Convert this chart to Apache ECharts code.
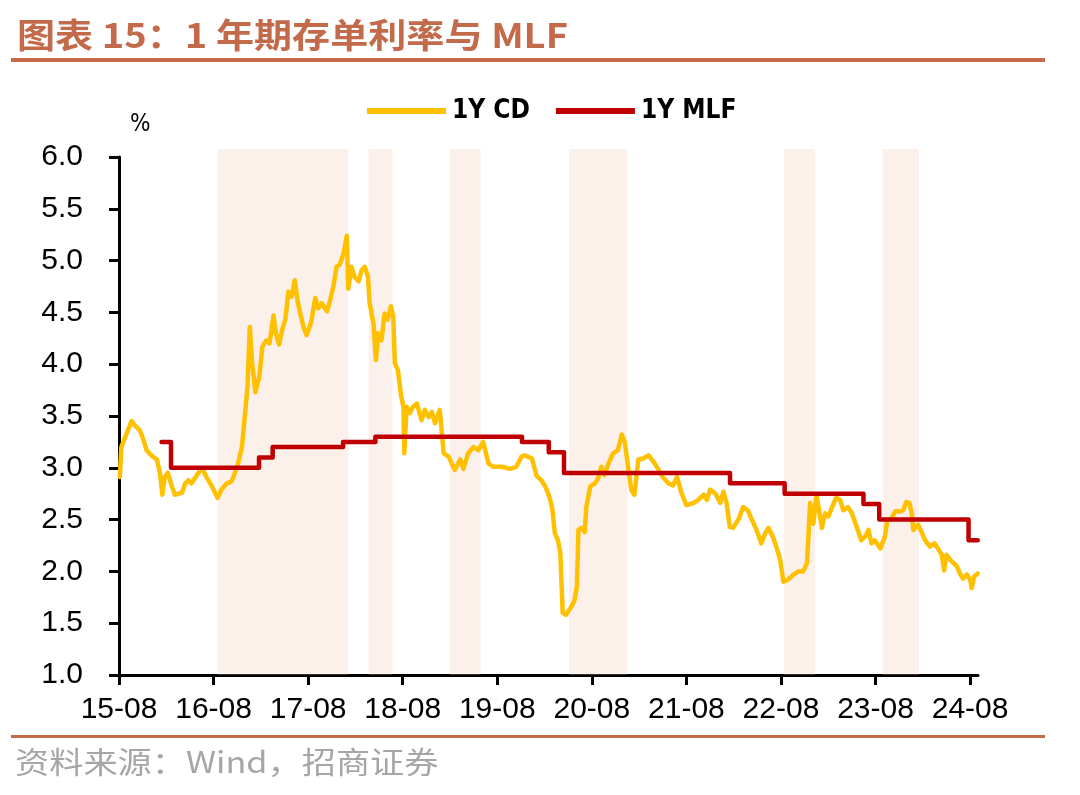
<!DOCTYPE html>
<html><head><meta charset="utf-8">
<script src="https://cdn.jsdelivr.net/npm/echarts@6/dist/echarts.min.js"></script>
<style>html,body{margin:0;padding:0;background:#fff}#c{width:1080px;height:795px}</style>
</head><body><div id="c"></div>
<script>
const xTickLabels = ['15-08','16-08','17-08','18-08','19-08','20-08','21-08','22-08','23-08','24-08'];

const cdData = [
['2015-08-04',2.91],['2015-08-10',3.20],['2015-08-25',3.30],['2015-09-19',3.45],['2015-10-01',3.41],
['2015-10-21',3.36],['2015-11-04',3.27],['2015-11-16',3.17],['2015-12-04',3.12],['2015-12-25',3.08],
['2016-01-07',2.95],['2016-01-16',2.74],['2016-01-25',2.91],['2016-02-07',2.95],['2016-02-22',2.82],
['2016-03-04',2.74],['2016-04-01',2.76],['2016-04-13',2.85],['2016-04-25',2.88],['2016-05-07',2.85],
['2016-05-28',2.93],['2016-06-16',3.00],['2016-07-04',2.91],['2016-07-25',2.82],['2016-08-16',2.71],
['2016-09-01',2.79],['2016-09-22',2.85],['2016-10-10',2.87],['2016-10-22',2.95],['2016-11-04',3.04],
['2016-11-19',3.20],['2016-12-01',3.53],['2016-12-10',3.78],['2016-12-19',4.36],['2016-12-28',4.01],
['2017-01-10',3.73],['2017-01-25',3.88],['2017-02-07',4.17],['2017-02-22',4.23],['2017-03-04',4.20],
['2017-03-19',4.47],['2017-03-28',4.30],['2017-04-10',4.19],['2017-04-22',4.33],['2017-05-04',4.43],
['2017-05-16',4.70],['2017-05-28',4.65],['2017-06-10',4.81],['2017-06-22',4.59],['2017-07-13',4.36],
['2017-07-25',4.28],['2017-08-13',4.41],['2017-08-28',4.64],['2017-09-10',4.54],['2017-09-22',4.59],
['2017-10-13',4.51],['2017-10-25',4.62],['2017-11-07',4.75],['2017-11-19',4.94],['2017-12-01',4.96],
['2017-12-16',5.07],['2017-12-28',5.24],['2018-01-04',4.73],['2018-01-16',4.94],['2018-01-28',4.84],
['2018-02-13',4.80],['2018-02-25',4.91],['2018-03-07',4.94],['2018-03-19',4.84],['2018-03-25',4.59],
['2018-04-10',4.39],['2018-04-19',4.04],['2018-04-28',4.30],['2018-05-10',4.23],['2018-05-22',4.49],
['2018-06-04',4.43],['2018-06-16',4.56],['2018-06-25',4.46],['2018-07-01',4.01],['2018-07-13',3.94],
['2018-07-25',3.69],['2018-08-04',3.59],['2018-08-07',3.14],['2018-08-16',3.59],['2018-08-28',3.53],
['2018-09-10',3.59],['2018-09-25',3.62],['2018-10-13',3.46],['2018-10-25',3.56],['2018-11-10',3.49],
['2018-11-22',3.54],['2018-12-04',3.43],['2018-12-22',3.56],['2019-01-07',3.14],['2019-01-25',3.11],
['2019-02-19',2.98],['2019-03-10',3.08],['2019-03-22',2.99],['2019-04-10',3.14],['2019-05-01',3.20],
['2019-05-19',3.17],['2019-06-07',3.25],['2019-06-28',3.04],['2019-07-16',3.01],['2019-08-19',3.01],
['2019-09-19',2.99],['2019-10-13',3.01],['2019-11-04',3.11],['2019-11-16',3.12],['2019-12-13',3.09],
['2020-01-01',2.92],['2020-01-19',2.88],['2020-02-04',2.82],['2020-02-22',2.70],['2020-03-01',2.59],
['2020-03-10',2.37],['2020-03-22',2.30],['2020-04-01',2.18],['2020-04-10',1.60],['2020-04-22',1.58],
['2020-05-13',1.66],['2020-05-25',1.72],['2020-06-04',1.85],['2020-06-10',2.40],['2020-06-22',2.42],
['2020-07-04',2.38],['2020-07-10',2.62],['2020-07-25',2.82],['2020-08-13',2.85],['2020-08-25',2.90],
['2020-09-07',3.01],['2020-09-19',2.93],['2020-10-04',3.04],['2020-10-22',3.14],['2020-11-10',3.17],
['2020-11-25',3.32],['2020-12-07',3.24],['2020-12-19',3.01],['2021-01-01',2.79],['2021-01-13',2.74],
['2021-01-28',3.08],['2021-02-16',3.09],['2021-03-07',3.12],['2021-03-25',3.06],['2021-04-13',2.99],
['2021-05-01',2.91],['2021-05-22',2.85],['2021-06-10',2.83],['2021-06-25',2.91],['2021-07-13',2.75],
['2021-08-01',2.64],['2021-08-28',2.66],['2021-09-16',2.69],['2021-10-07',2.74],['2021-10-19',2.69],
['2021-11-01',2.79],['2021-11-22',2.75],['2021-12-10',2.66],['2021-12-22',2.77],['2022-01-04',2.66],
['2022-01-16',2.43],['2022-01-28',2.42],['2022-02-19',2.50],['2022-03-07',2.62],['2022-03-25',2.59],
['2022-04-10',2.50],['2022-04-28',2.40],['2022-05-16',2.27],['2022-06-01',2.37],['2022-06-13',2.42],
['2022-07-01',2.33],['2022-07-13',2.24],['2022-07-28',2.11],['2022-08-10',1.90],['2022-08-28',1.92],
['2022-09-19',1.97],['2022-10-07',2.00],['2022-10-25',2.00],['2022-11-10',2.08],['2022-11-16',2.37],
['2022-11-22',2.66],['2022-12-04',2.46],['2022-12-16',2.74],['2022-12-28',2.56],['2023-01-07',2.42],
['2023-01-19',2.56],['2023-02-01',2.53],['2023-02-22',2.66],['2023-03-01',2.71],['2023-03-16',2.69],
['2023-03-28',2.59],['2023-04-16',2.62],['2023-05-01',2.56],['2023-05-19',2.43],['2023-06-07',2.30],
['2023-06-22',2.34],['2023-07-04',2.40],['2023-07-16',2.27],['2023-07-28',2.30],['2023-08-19',2.22],
['2023-09-07',2.34],['2023-09-16',2.50],['2023-10-01',2.51],['2023-10-16',2.58],['2023-11-04',2.58],
['2023-11-16',2.59],['2023-11-28',2.67],['2023-12-10',2.66],['2023-12-19',2.56],['2023-12-25',2.40],
['2024-01-13',2.45],['2024-01-28',2.37],['2024-02-10',2.30],['2024-02-28',2.24],['2024-03-16',2.27],
['2024-04-01',2.21],['2024-04-13',2.16],['2024-04-22',2.01],['2024-05-01',2.16],['2024-05-16',2.11],
['2024-05-28',2.08],['2024-06-10',2.05],['2024-06-22',1.98],['2024-07-04',1.93],['2024-07-19',1.97],
['2024-08-01',1.92],['2024-08-07',1.84],['2024-08-16',1.95],['2024-08-30',1.98]
];

const mlfData = [
['2016-01-13',3.25],['2016-02-19',3.00],['2017-01-24',3.10],['2017-03-16',3.20],['2017-12-14',3.25],
['2018-04-17',3.30],['2019-11-05',3.25],['2020-02-17',3.15],['2020-04-15',2.95],['2022-01-17',2.85],
['2022-08-15',2.75],['2023-06-15',2.65],['2023-08-15',2.50],['2024-07-25',2.30],['2024-08-30',2.30]
];

const bandRanges = [
['2016-08-16','2018-01-05'],['2018-03-22','2018-06-22'],['2019-01-30','2019-05-28'],
['2020-05-04','2020-12-16'],['2022-08-13','2022-12-11'],['2023-08-28','2024-01-16']
];

function toMonth(s){
  const p = s.split('-').map(Number);
  return (p[0]-2015)*12 + (p[1]-8) + (p[2]-1)/30;
}

const numFont = "'Liberation Sans', Arial, sans-serif";
const narrowFont = "'Liberation Sans Narrow', 'DejaVu Sans Condensed', sans-serif";
const titleColor = '#C36A4B';

const chart = echarts.init(document.getElementById('c'), null, {renderer:'canvas'});
chart.setOption({
  animation:false,
  backgroundColor:'#fff',
  grid:[
    {left:119, right:102, top:157, bottom:120},
    {left:119, right:102, top:149, bottom:120}
  ],
  legend:{
    data:['1Y CD','1Y MLF'],
    left:362, top:93,
    icon:'rect', itemWidth:79, itemHeight:6, itemGap:26,
    textStyle:{fontFamily:narrowFont, fontWeight:'bold', fontSize:26, color:'#000', padding:[0,0,0,1]}
  },
  xAxis:[{
    type:'value', min:0, max:109, interval:12, gridIndex:0,
    axisLine:{lineStyle:{color:'#000', width:3}},
    axisTick:{show:true, length:10, lineStyle:{color:'#000', width:3}},
    axisLabel:{margin:20, fontFamily:numFont, fontSize:30, color:'#000',
      formatter:function(v){return xTickLabels[Math.round(v/12)] || '';}},
    splitLine:{show:false}
  },{
    type:'value', min:0, max:109, gridIndex:1, show:false
  }],
  yAxis:[{
    type:'value', min:1, max:6, interval:0.5, gridIndex:0,
    axisLine:{show:true, lineStyle:{color:'#000', width:3}},
    axisTick:{show:true, length:10, lineStyle:{color:'#000', width:3}},
    axisLabel:{margin:36, fontFamily:numFont, fontSize:30, color:'#000',
      formatter:function(v){return v.toFixed(1);}},
    splitLine:{show:false}
  },{
    type:'value', min:0, max:1, gridIndex:1, show:false
  }],
  series:[
    {
      name:'1Y CD', type:'line', xAxisIndex:0, yAxisIndex:0, z:2,
      data:cdData.map(d=>[toMonth(d[0]), d[1]]),
      symbol:'none', color:'#FFC000',
      lineStyle:{color:'#FFC000', width:4.5, join:'round', cap:'round'}
    },
    {
      name:'1Y MLF', type:'line', xAxisIndex:0, yAxisIndex:0, z:3, step:'end',
      data:mlfData.map(d=>[toMonth(d[0]), d[1]]),
      symbol:'none', color:'#C00000',
      lineStyle:{color:'#C00000', width:4.5, join:'round', cap:'round'}
    },
    {
      name:'bands', type:'line', xAxisIndex:1, yAxisIndex:1, z:10, data:[],
      markArea:{
        silent:true,
        itemStyle:{color:'rgba(244,196,170,0.25)'},
        data:bandRanges.map(b=>[{xAxis:toMonth(b[0]), yAxis:0},{xAxis:toMonth(b[1]), yAxis:1}])
      }
    }
  ],
  graphic:[
    {type:'text', x:17, y:18, scaleX:1.12, style:{text:'图表 15：1 年期存单利率与 MLF', fill:titleColor,
      font:"bold 34px 'Noto Sans CJK SC', sans-serif", verticalAlign:'top'}},
    {type:'rect', shape:{x:11, y:58, width:1034, height:4}, style:{fill:titleColor}},
    {type:'text', x:130, y:113, style:{text:'%', fill:'#000', font:"24px " + narrowFont, verticalAlign:'top'}},
    {type:'rect', shape:{x:11, y:735, width:1034, height:3}, style:{fill:titleColor}},
    {type:'text', x:15, y:747, scaleX:1.14, style:{text:'资料来源：Wind，招商证券', fill:'#A6A6A6',
      font:"30px 'Noto Sans CJK SC', sans-serif", verticalAlign:'top'}}
  ]
});
</script></body></html>
